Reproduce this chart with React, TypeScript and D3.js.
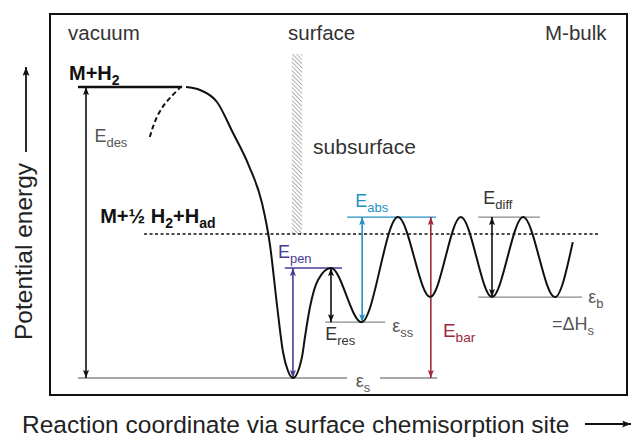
import { useEffect } from "react"
import * as d3 from "d3"

const W = 633
const H = 437
const frame = { left: 50, top: 14, right: 627, bottom: 395 }

// energy levels (arb. units: εs = 0, M+H2 = 100)
const levelNames = ["eps_s", "eps_ss", "eps_b", "pen", "ad", "bar", "mh2"]
const levelValues = [0, 19.2, 27.8, 37.8, 49.5, 55.3, 100]
const lv = (n: string) => levelValues[levelNames.indexOf(n)]

// potential energy along reaction coordinate (0–100)
const curveX = [23.57, 26.0, 28.94, 31.72, 34.49, 36.74, 38.13, 39.34, 40.38, 41.25, 42.11, 43.67, 44.19, 45.06, 46.45, 48.7, 54.0, 60.3, 65.9, 71.2, 76.6, 82.0, 87.5, 90.6]
const curveE = [100, 98.97, 94.85, 84.19, 72.85, 60.14, 45.7, 25.09, 8.93, 2.41, 0, 7.2, 14.1, 24.4, 33.7, 37.8, 19.2, 55.3, 27.8, 55.3, 27.8, 55.3, 27.8, 46.7]

// dashed (activated) desorption branch
const dashX = [17.3, 17.85, 18.7, 19.9, 21.1, 22.5]
const dashE = [82.8, 86.3, 90.4, 94.2, 96.9, 99.7]

const FONT = "'Liberation Sans', Arial, sans-serif"
const PURPLE = "#4b3b98"
const BLUE = "#2490c6"
const RED = "#a02a3a"
const GRAY = "#8a8a8a"
const TXT = "#333"

export default function App() {
  useEffect(() => {
    document.body.style.margin = "0"
  }, [])

  const x = d3.scaleLinear().domain([0, 100]).range([frame.left, frame.right])
  const y = d3.scaleLinear().domain([-5.84, 125.1]).range([frame.bottom, frame.top])

  const line = d3
    .line<[number, number]>()
    .x((d) => x(d[0]))
    .y((d) => y(d[1]))
    .curve(d3.curveMonotoneX)

  const mainPath = line(curveX.map((v, i) => [v, curveE[i]]))
  const dashPath = d3
    .line<[number, number]>()
    .x((d) => x(d[0]))
    .y((d) => y(d[1]))
    .curve(d3.curveCatmullRom)(dashX.map((v, i) => [v, dashE[i]]))

  const hline = (x0: number, x1: number, e: number, color: string, w = 1.3, dash?: string) => (
    <line x1={x(x0)} x2={x(x1)} y1={y(e)} y2={y(e)} stroke={color} strokeWidth={w} strokeDasharray={dash} />
  )
  const arrow = (xp: number, e0: number, e1: number, id: string, color: string) => (
    <line
      x1={x(xp)}
      x2={x(xp)}
      y1={y(e0)}
      y2={y(e1)}
      stroke={color}
      strokeWidth={1.6}
      markerStart={`url(#ah-${id})`}
      markerEnd={`url(#ah-${id})`}
    />
  )
  const label = (xp: number, e: number, main: string, sub: string, color: string, size = 18) => (
    <text x={x(xp)} y={y(e)} fill={color} fontSize={size} fontFamily={FONT}>
      {main}
      <tspan fontSize={size * 0.72} dy={5}>
        {sub}
      </tspan>
    </text>
  )

  const markers = [
    ["k", "#111"],
    ["p", PURPLE],
    ["b", BLUE],
    ["r", RED],
  ]

  return (
    <svg width={W} height={H} style={{ display: "block" }}>
      <defs>
        {markers.map(([id, c]) => (
          <marker
            key={id}
            id={`ah-${id}`}
            markerUnits="userSpaceOnUse"
            markerWidth={9}
            markerHeight={7}
            refX={8}
            refY={3}
            orient="auto-start-reverse"
          >
            <path d="M0,0 L8,3 L0,6 L1.5,3 Z" fill={c} />
          </marker>
        ))}
        <marker id="ax" markerUnits="userSpaceOnUse" markerWidth={10} markerHeight={8} refX={9} refY={3.5} orient="auto">
          <path d="M0,0 L9,3.5 L0,7 L2,3.5 Z" fill="#111" />
        </marker>
        <pattern id="hatch" width={3} height={3} patternUnits="userSpaceOnUse" patternTransform="rotate(-45)">
          <line x1={0} y1={0} x2={0} y2={3} stroke="#8d8d8d" strokeWidth={1.4} />
        </pattern>
      </defs>

      {/* frame */}
      <rect
        x={frame.left}
        y={frame.top}
        width={frame.right - frame.left}
        height={frame.bottom - frame.top}
        fill="none"
        stroke="#111"
        strokeWidth={2}
      />

      {/* region labels */}
      <text x={68} y={40} fontSize={20.5} fontFamily={FONT} fill={TXT}>vacuum</text>
      <text x={288} y={40} fontSize={20.5} fontFamily={FONT} fill={TXT}>surface</text>
      <text x={545} y={40} fontSize={20.5} fontFamily={FONT} fill={TXT}>M-bulk</text>
      <text x={x(45.6)} y={y(77)} fontSize={21} fontFamily={FONT} fill={TXT}>subsurface</text>

      {/* surface wall */}
      <rect x={x(41.9)} y={y(111.3)} width={x(43.7) - x(41.9)} height={y(lv("ad")) - y(111.3)} fill="url(#hatch)" />

      {/* reference levels */}
      {hline(16.3, 95.0, lv("ad"), "#111", 1.3, "3,2.5")}
      {hline(4.85, 51.5, lv("eps_s"), GRAY)}
      {hline(57.2, 67.1, lv("eps_s"), GRAY)}
      {hline(47.7, 58.1, lv("eps_ss"), GRAY)}
      {hline(74.2, 92.2, lv("eps_b"), GRAY)}
      {hline(74.2, 84.9, lv("bar"), GRAY)}
      {hline(40.7, 50.6, lv("pen"), PURPLE)}
      {hline(51.5, 66.9, lv("bar"), BLUE, 1.1)}
      {hline(4.85, 22.9, lv("mh2"), "#111", 2.4)}

      {/* energy arrows */}
      {arrow(6.24, lv("mh2"), lv("eps_s"), "k", "#111")}
      {arrow(42.1, lv("eps_s"), lv("pen"), "p", PURPLE)}
      {arrow(48.7, lv("pen"), lv("eps_ss"), "k", "#111")}
      {arrow(54.1, lv("eps_ss"), lv("bar"), "b", BLUE)}
      {arrow(66.0, lv("eps_s"), lv("bar"), "r", RED)}
      {arrow(76.6, lv("eps_b"), lv("bar"), "k", "#111")}

      {/* potential curve */}
      <path d={mainPath ?? ""} fill="none" stroke="#111" strokeWidth={2} />
      <path d={dashPath ?? ""} fill="none" stroke="#111" strokeWidth={2} strokeDasharray="5,3" />

      {/* state labels */}
      <text x={x(3.3)} y={y(102.4)} fontSize={20} fontWeight="bold" fontFamily={FONT} fill="#111">
        M+H<tspan fontSize={14} dy={5}>2</tspan>
      </text>
      <text x={x(8.7)} y={y(53.3)} fontSize={20} fontWeight="bold" fontFamily={FONT} fill="#111">
        M+½ H<tspan fontSize={14} dy={5}>2</tspan>
        <tspan dy={-5}>+H</tspan>
        <tspan fontSize={14} dy={5}>ad</tspan>
      </text>

      {label(7.7, 81.1, "E", "des", "#555")}
      {label(39.5, 41.2, "E", "pen", PURPLE)}
      {label(47.7, 13.1, "E", "res", TXT)}
      {label(52.9, 58.8, "E", "abs", BLUE)}
      {label(68.1, 14.1, "E", "bar", RED, 19)}
      {label(75.1, 59.8, "E", "diff", TXT)}
      {label(59.3, 15.8, "ε", "ss", "#555")}
      {label(53.0, -3.1, "ε", "s", "#555")}
      {label(93.3, 25.8, "ε", "b", "#555")}
      {label(87.0, 16.5, "=ΔH", "s", "#555")}

      {/* axis titles */}
      <text
        transform="translate(32,340) rotate(-90)"
        fontSize={24.5}
        fontFamily={FONT}
        fill="#222"
      >
        Potential energy
      </text>
      <line x1={26} x2={26} y1={152} y2={67} stroke="#111" strokeWidth={1.8} markerEnd="url(#ax)" />
      <text x={22} y={433} fontSize={24.5} fontFamily={FONT} fill="#222">
        Reaction coordinate via surface chemisorption site
      </text>
      <line x1={585} x2={631} y1={424} y2={424} stroke="#111" strokeWidth={1.8} markerEnd="url(#ax)" />
    </svg>
  )
}
